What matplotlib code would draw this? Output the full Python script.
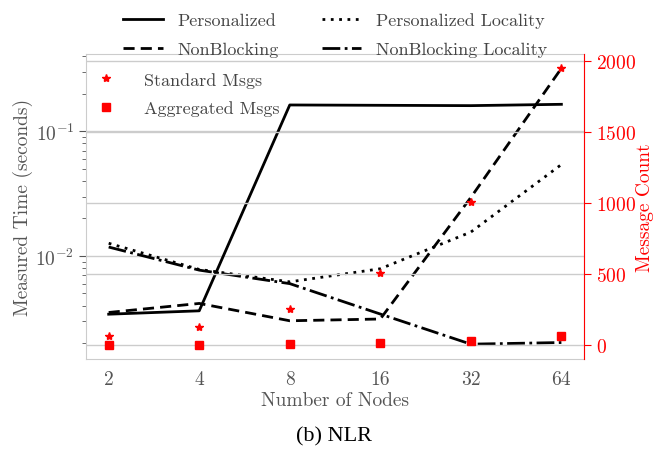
import os
import matplotlib
matplotlib.use("Agg")
import matplotlib.pyplot as plt
from matplotlib import font_manager
import numpy as np

# computer modern ships with matplotlib
cm_path = os.path.join(matplotlib.get_data_path(), 'fonts', 'ttf', 'cmr10.ttf')
font_manager.fontManager.addfont(cm_path)
cm_name = font_manager.FontProperties(fname=cm_path).get_name()

plt.rcParams['font.family'] = [cm_name, 'DejaVu Serif']
plt.rcParams['mathtext.fontset'] = 'cm'
plt.rcParams['axes.formatter.use_mathtext'] = True

# data
nodes = ['2', '4', '8', '16', '32', '64']
personalized = [3.41e-3, 3.63e-3, 0.163, 0.162, 0.161, 0.165]
nonblocking = [3.52e-3, 4.16e-3, 3.02e-3, 3.12e-3, 0.0295, 0.321]
pers_locality = [0.01265, 7.8e-3, 6.2e-3, 7.9e-3, 0.01556, 0.0542]
nb_locality = [0.0118, 7.7e-3, 6.0e-3, 3.42e-3, 1.96e-3, 2.02e-3]
standard_msgs = [61, 124, 253, 510, 1008, 1949]
aggregated_msgs = [0, 0, 5, 14, 30, 63]

gray = '#555555'
grid = '#cccccc'

fig = plt.figure(figsize=(6.67, 4.6), dpi=100)
ax = fig.add_axes([0.129, 0.2174, 0.7466, 0.663])
x = np.arange(len(nodes))

ax.plot(x, personalized, color='k', lw=2, ls='-', label='Personalized')
ax.plot(x, nonblocking, color='k', lw=2, ls=(0, (4, 2.2)), label='NonBlocking')
ax.plot(x, pers_locality, color='k', lw=2, ls=(0, (1, 2)), label='Personalized Locality')
ax.plot(x, nb_locality, color='k', lw=2, ls='-.', label='NonBlocking Locality')
ax.set_yscale('log')
ax.set_xticks(x)
ax.set_xticklabels(nodes)
ax.set_xlim(-0.25, 5.25)
ax.set_ylim(1.49e-3, 0.418)
ax.grid(True, axis='y', which='major', color=grid, lw=1)
ax.set_axisbelow(True)
for s in ax.spines.values():
    s.set_color(grid)
ax.tick_params(axis='x', length=0, labelsize=14, labelcolor=gray, pad=8)
ax.tick_params(axis='y', which='major', length=5, color=gray, labelsize=14, labelcolor=gray)
ax.tick_params(axis='y', which='minor', length=3, color=gray)
ax.set_xlabel('Number of Nodes', fontsize=14, color=gray, labelpad=2)
ax.set_ylabel('Measured Time (seconds)', fontsize=14, color=gray, labelpad=2)

ax2 = ax.twinx()
ax2.plot(x, standard_msgs, ls='none', marker='*', color='red', ms=6, label='Standard Msgs')
ax2.plot(x, aggregated_msgs, ls='none', marker='s', color='red', ms=6, label='Aggregated Msgs')
ax2.set_ylim(-98, 2049)
ax2.set_yticks([0, 500, 1000, 1500, 2000])
ax2.grid(True, color=grid, lw=1)
for s in ax2.spines.values():
    s.set_visible(False)
ax2.spines['right'].set_visible(True)
ax2.spines['right'].set_color('red')
ax2.tick_params(axis='y', length=5, color='red', labelcolor='red', labelsize=14)
ax2.set_ylabel('Message Count', fontsize=14, color='red', labelpad=0)

ax.legend(loc='lower center', bbox_to_anchor=(0.5, 0.965), ncol=2, frameon=False,
          fontsize=13, handlelength=2.2, handletextpad=0.8, columnspacing=2.4,
          labelspacing=0.75, labelcolor='#444444', borderaxespad=0)
ax2.legend(loc='upper left', frameon=False, fontsize=13, handlelength=1.0,
           handletextpad=1.6, labelspacing=0.7, labelcolor='#444444',
           bbox_to_anchor=(-0.01, 0.995))

fig.text(0.5, 0.04, '(b) NLR', ha='center', fontsize=16, family='Liberation Serif')

fig.savefig('out.png', dpi=100)
